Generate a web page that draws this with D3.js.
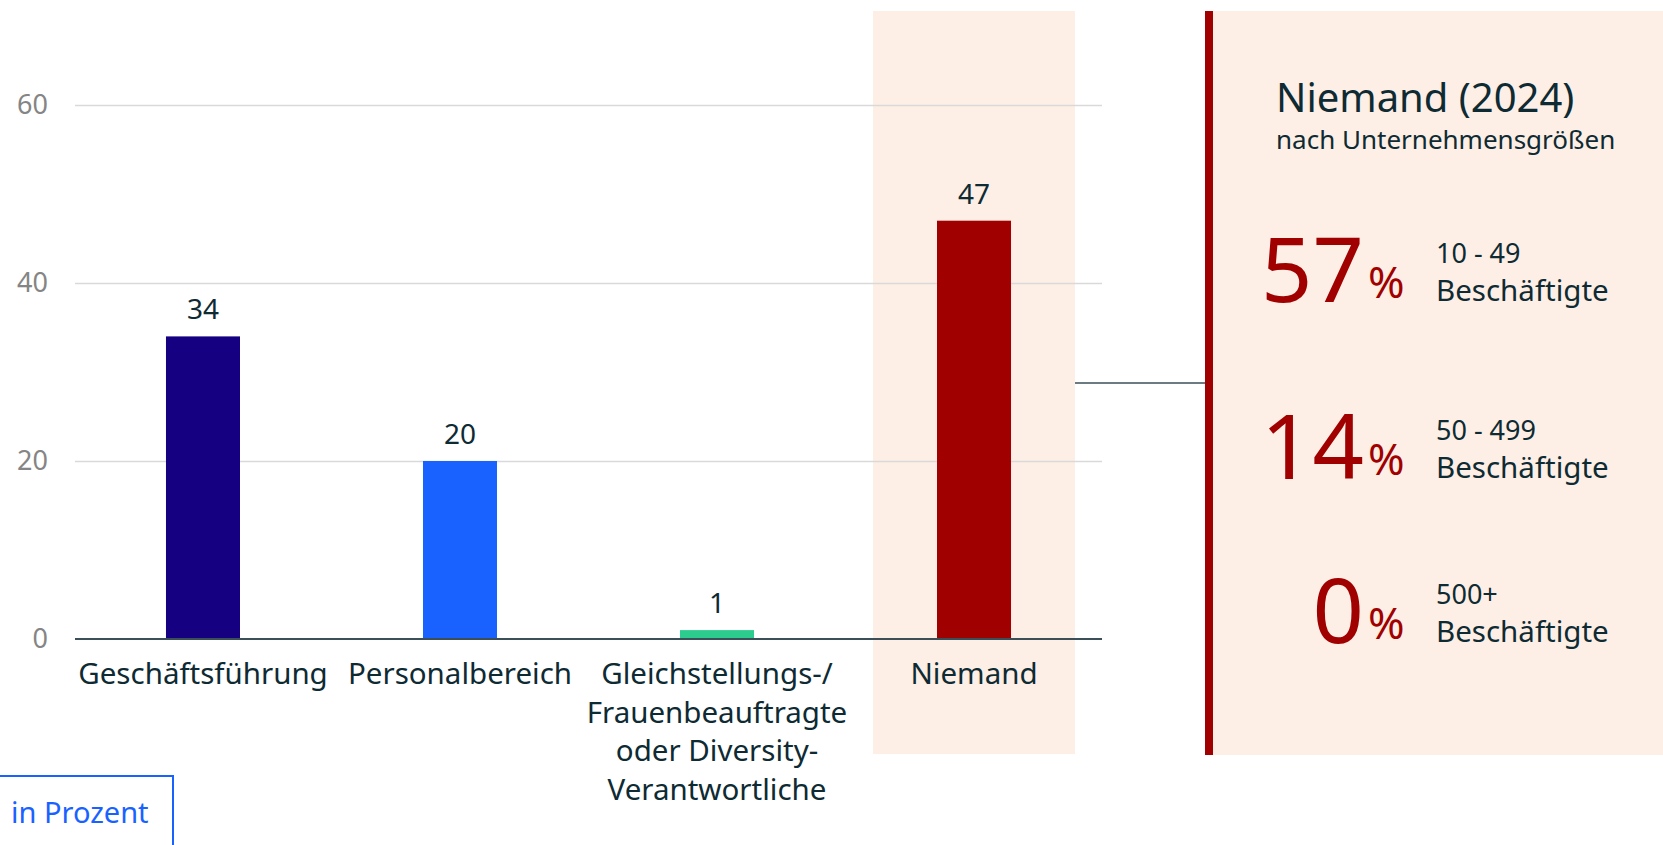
<!DOCTYPE html>
<html>
<head>
<meta charset="utf-8">
<script src="https://cdn.jsdelivr.net/npm/d3@7"></script>
<style>
  body { margin: 0; background: #fff; }
  svg { display: block; font-family: "Noto Sans", sans-serif; }
</style>
</head>
<body>
<svg id="chart"></svg>
<script>
// Daten
const categories = ['Geschäftsführung', 'Personalbereich', 'Gleichstellungs-/Frauenbeauftragte oder Diversity-Verantwortliche', 'Niemand'];
const categoryLines = [
    ['Geschäftsführung'],
    ['Personalbereich'],
    ['Gleichstellungs-/', 'Frauenbeauftragte', 'oder Diversity-', 'Verantwortliche'],
    ['Niemand']
];
const values = [34, 20, 1, 47];
const barColors = ['#140080', '#1a62ff', '#2ccb8e', '#a00000'];
const yTicks = [0, 20, 40, 60];

const sizeValues = [57, 14, 0];
const sizeLabels = ['10 - 49', '50 - 499', '500+'];

const width = 1663;
const height = 845;
const textColor = '#0e2a33';
const peach = '#fdefe5';

const svg = d3.select('#chart')
    .attr('width', width)
    .attr('height', height);

// Skalen
const x = d3.scaleBand()
    .domain(categories)
    .range([75, 1102])
    .paddingInner(0.712)
    .paddingOuter(0.354);

const y = d3.scaleLinear()
    .domain([0, 60])
    .range([639, 105]);

// Hervorhebung "Niemand"
const hiCenter = x(categories[3]) + x.bandwidth() / 2;
const hiWidth = x.step() * 0.786;
svg.append('rect')
    .attr('x', hiCenter - hiWidth / 2)
    .attr('y', 11)
    .attr('width', hiWidth)
    .attr('height', 743)
    .attr('fill', peach);

// Gitterlinien
const yAxis = d3.axisLeft(y)
    .tickValues(yTicks)
    .tickSize(-(1102 - 75))
    .tickPadding(27);

const yg = svg.append('g')
    .attr('transform', 'translate(75,0)')
    .call(yAxis);
yg.select('.domain').remove();
yg.selectAll('.tick line')
    .attr('stroke', '#d9d9d9')
    .attr('stroke-width', 1.5);
yg.selectAll('.tick text')
    .attr('fill', '#858585')
    .style('font-size', '27px')
    .style('font-family', '"Noto Sans", sans-serif');
yg.selectAll('.tick').filter(d => d === 0).select('line').remove();

// Balken
svg.append('g')
    .selectAll('rect')
    .data(values)
    .enter().append('rect')
    .attr('x', (d, i) => x(categories[i]))
    .attr('y', d => y(d))
    .attr('width', x.bandwidth())
    .attr('height', d => y(0) - y(d))
    .attr('fill', (d, i) => barColors[i]);

// Werte
svg.append('g')
    .selectAll('text')
    .data(values)
    .enter().append('text')
    .attr('x', (d, i) => x(categories[i]) + x.bandwidth() / 2)
    .attr('y', d => y(d) - 17)
    .attr('text-anchor', 'middle')
    .attr('fill', textColor)
    .style('font-size', '28px')
    .text(d => d);

// Nulllinie
svg.append('line')
    .attr('x1', 75)
    .attr('x2', 1102)
    .attr('y1', y(0))
    .attr('y2', y(0))
    .attr('stroke', '#3a4f57')
    .attr('stroke-width', 2);

// Kategorien
const labels = svg.append('g')
    .selectAll('text')
    .data(categoryLines)
    .enter().append('text')
    .attr('text-anchor', 'middle')
    .attr('fill', textColor)
    .style('font-size', '29.5px')
    .attr('transform', (d, i) => `translate(${x(categories[i]) + x.bandwidth() / 2},684)`);

labels.selectAll('tspan')
    .data(d => d)
    .enter().append('tspan')
    .attr('x', 0)
    .attr('y', (d, i) => i * 38.5)
    .text(d => d);

// Verbindungslinie
const panelX = 1205;
svg.append('line')
    .attr('x1', hiCenter + hiWidth / 2)
    .attr('x2', panelX)
    .attr('y1', 383)
    .attr('y2', 383)
    .attr('stroke', '#3a4f57')
    .attr('stroke-width', 1.5);

// Seitenpanel
svg.append('rect')
    .attr('x', panelX + 8)
    .attr('y', 11)
    .attr('width', width - panelX - 8)
    .attr('height', 744)
    .attr('fill', peach);

svg.append('rect')
    .attr('x', panelX)
    .attr('y', 11)
    .attr('width', 8)
    .attr('height', 744)
    .attr('fill', '#a00000');

svg.append('text')
    .attr('x', 1276)
    .attr('y', 112)
    .attr('fill', textColor)
    .style('font-size', '40px')
    .text('Niemand (2024)');

svg.append('text')
    .attr('x', 1276)
    .attr('y', 149)
    .attr('fill', textColor)
    .style('font-size', '26px')
    .text('nach Unternehmensgrößen');

const rowBase = [300, 477, 641];

const rows = svg.append('g')
    .selectAll('g')
    .data(sizeValues)
    .enter().append('g')
    .attr('transform', (d, i) => `translate(0,${rowBase[i]})`);

rows.append('text')
    .attr('x', 1364)
    .attr('y', 2)
    .attr('text-anchor', 'end')
    .attr('fill', '#a00000')
    .style('font-size', '90px')
    .text(d => d);

rows.append('text')
    .attr('x', 1368)
    .attr('y', -2)
    .attr('fill', '#a00000')
    .style('font-size', '44px')
    .text('%');

rows.append('text')
    .attr('x', 1436)
    .attr('y', -37)
    .attr('fill', textColor)
    .style('font-size', '27px')
    .text((d, i) => sizeLabels[i]);

rows.append('text')
    .attr('x', 1436)
    .attr('y', 1)
    .attr('fill', textColor)
    .style('font-size', '29.5px')
    .text('Beschäftigte');

// Einheit
svg.append('rect')
    .attr('x', -2)
    .attr('y', 776)
    .attr('width', 175)
    .attr('height', 100)
    .attr('fill', 'none')
    .attr('stroke', '#1a62ff')
    .attr('stroke-width', 2);

svg.append('text')
    .attr('x', 11)
    .attr('y', 823)
    .attr('fill', '#1a62ff')
    .style('font-size', '29px')
    .text('in Prozent');
</script>
</body>
</html>
